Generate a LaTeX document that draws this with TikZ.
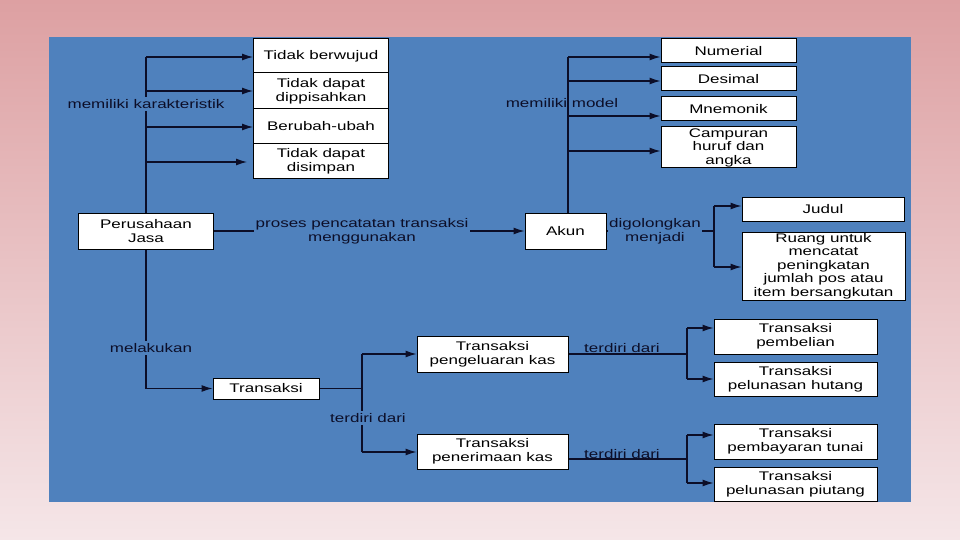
\documentclass[tikz,border=0pt]{standalone}
\usepackage{fontspec}
\setmainfont{Liberation Sans}[FakeStretch=1.36]
\usetikzlibrary{arrows.meta}
\definecolor{panel}{RGB}{79,129,189}
\definecolor{pinktop}{RGB}{221,160,162}
\definecolor{pinkbot}{RGB}{245,230,232}
\definecolor{ink}{RGB}{12,14,40}
\begin{document}
\begin{tikzpicture}[x=1pt,y=-1pt,
  txt/.style={font=\fontsize{12.5}{14}\selectfont},
  box/.style={txt, draw=black, line width=1pt, fill=white, align=center, inner sep=0pt, text=black},
  lbl/.style={txt, align=center, text=ink, inner sep=1pt},
  lblf/.style={lbl, fill=panel, inner sep=2pt},
  conn/.style={draw=ink, line width=1.2pt},
  arr/.style={conn, -{Latex[length=11pt,width=7pt]}}]
\useasboundingbox (0,0) rectangle (960,540);
\shade[top color=pinktop, bottom color=pinkbot] (0,0) rectangle (960,540);
\fill[panel] (49,37) rectangle (911,502);

% left characteristic boxes
\node[box, minimum width=135, minimum height=34] (tb) at (321,56) {Tidak berwujud};
\node[box, minimum width=135, minimum height=36] (tdp) at (321,91) {Tidak dapat\\dippisahkan};
\node[box, minimum width=135, minimum height=35] (bu) at (321,126.5) {Berubah-ubah};
\node[box, minimum width=135, minimum height=35] (tds) at (321,161.5) {Tidak dapat\\disimpan};

% main nodes
\node[box, minimum width=135, minimum height=36] (pj) at (146,231) {Perusahaan\\Jasa};
\node[box, minimum width=81, minimum height=36] (akun) at (565.5,231) {Akun};

% model boxes
\node[box, minimum width=135, minimum height=24] (num) at (728.5,51) {Numerial};
\node[box, minimum width=135, minimum height=24] (des) at (728.5,79) {Desimal};
\node[box, minimum width=135, minimum height=24] (mne) at (728.5,109) {Mnemonik};
\node[box, minimum width=135, minimum height=41, font=\fontsize{12.5}{13.5}\selectfont] (camp) at (728.5,147.5) {Campuran\\huruf dan\\angka};

\node[box, minimum width=162, minimum height=24] (jud) at (823,209) {Judul};
\node[box, minimum width=163, minimum height=68, font=\fontsize{12.5}{13.4}\selectfont] (ruang) at (823.5,266) {Ruang untuk\\mencatat\\peningkatan\\jumlah pos atau\\item bersangkutan};

% transactions
\node[box, minimum width=106, minimum height=21] (trx) at (266,388.5) {Transaksi};
\node[box, minimum width=151, minimum height=36] (tpk) at (492.5,354) {Transaksi\\pengeluaran kas};
\node[box, minimum width=151, minimum height=35] (tpn) at (492.5,451.5) {Transaksi\\penerimaan kas};
\node[box, minimum width=163, minimum height=35] (tbel) at (795.5,336.5) {Transaksi\\pembelian};
\node[box, minimum width=163, minimum height=34] (tph) at (795.5,379) {Transaksi\\pelunasan hutang};
\node[box, minimum width=163, minimum height=35] (tpt) at (795.5,441.5) {Transaksi\\pembayaran tunai};
\node[box, minimum width=163, minimum height=34] (tpp) at (795.5,484) {Transaksi\\pelunasan piutang};

% Perusahaan -> characteristics
\draw[conn] (pj.north) -- (pj.north |- 0,57);
\draw[arr] (pj.north |- 0,57) -- (tb.west |- 0,57);
\draw[arr] (pj.north |- 0,91) -- (tdp.west |- 0,91);
\draw[arr] (pj.north |- 0,127) -- (bu.west |- 0,127);
\draw[arr] (pj.north |- 0,162) -- ([xshift=-6]tds.west |- 0,162);
\node[lblf] (lk) at (146,104) {memiliki karakteristik};

% Perusahaan -> Akun
\draw[arr] (pj.east) -- (akun.west);
\node[lblf] (lp) at (362,231) {proses pencatatan transaksi\\menggunakan};

% Akun -> models
\coordinate (ak) at ([xshift=2.5]akun.north);
\draw[conn] (ak) -- (ak |- 0,57);
\draw[arr] (ak |- 0,57) -- (num.west |- 0,57);
\draw[arr] (ak |- 0,81) -- (des.west |- 0,81);
\draw[arr] (ak |- 0,116) -- (mne.west |- 0,116);
\draw[arr] (ak |- 0,151) -- (camp.west |- 0,151);
\node[lbl] (lm) at (562,103) {memiliki model};

% Akun -> Judul / Ruang
\coordinate (dg) at (714,231);
\draw[conn] (akun.east) -- (dg);
\draw[conn] (714,206) -- (714,267);
\draw[arr] (714,206) -- (jud.west |- 0,206);
\draw[arr] (714,267) -- (ruang.west |- 0,267);
\node[lblf, inner sep=1pt] (ld) at (655,231) {digolongkan\\menjadi};

% Perusahaan -> Transaksi
\draw[conn] (pj.south) -- (pj.south |- trx.west);
\draw[arr] (pj.south |- trx.west) -- (trx.west);
\node[lblf] (ll) at (151,348) {melakukan};

% Transaksi -> kas
\coordinate (tj) at (trx.east -| 362,0);
\draw[conn] (trx.east) -- (tj);
\draw[conn] (362,354) -- (362,452);
\draw[arr] (362,354) -- (tpk.west);
\draw[arr] (362,452) -- (tpn.west |- 0,452);
\node[lblf] (lt) at (368,418) {terdiri dari};

% pengeluaran -> pembelian / hutang
\draw[conn] (tpk.east) -- (687,354);
\draw[conn] (687,328) -- (687,379);
\draw[arr] (687,328) -- (tbel.west |- 0,328);
\draw[arr] (687,379) -- (tph.west);
\node[lbl, anchor=south] (lt2) at (622,354) {terdiri dari};

% penerimaan -> tunai / piutang
\draw[conn] (tpn.east |- 0,459) -- (687,459);
\draw[conn] (687,435) -- (687,483);
\draw[arr] (687,435) -- (tpt.west |- 0,435);
\draw[arr] (687,483) -- (tpp.west |- 0,483);
\node[lbl, anchor=south] (lt3) at (622,459.5) {terdiri dari};
\end{tikzpicture}
\end{document}
